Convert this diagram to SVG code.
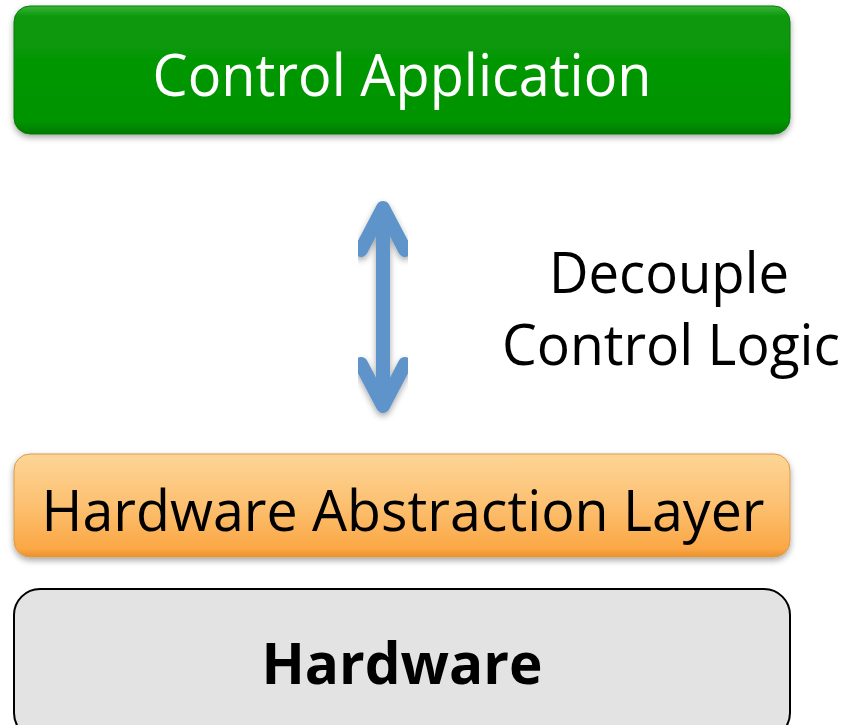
<svg xmlns="http://www.w3.org/2000/svg" width="846" height="725" viewBox="0 0 846 725">
<defs>
<linearGradient id="gGreen" x1="0" y1="0" x2="0" y2="1">
<stop offset="0" stop-color="#3cb43c"/>
<stop offset="0.08" stop-color="#0a990a"/>
<stop offset="0.9" stop-color="#009400"/>
<stop offset="1" stop-color="#007a00"/>
</linearGradient>
<linearGradient id="gOrange" x1="0" y1="0" x2="0" y2="1">
<stop offset="0" stop-color="#fdd596"/>
<stop offset="0.5" stop-color="#fcc070"/>
<stop offset="0.92" stop-color="#fba745"/>
<stop offset="1" stop-color="#e8922e"/>
</linearGradient>
<filter id="shadow" x="-5%" y="-10%" width="110%" height="130%">
<feDropShadow dx="0" dy="3" stdDeviation="3" flood-color="#000" flood-opacity="0.35"/>
</filter>
<style>
.t{font-family:"Open Sans","Noto Sans",sans-serif;}
</style>
</defs>
<g id="control-application">
<rect x="14" y="6" width="776" height="128" rx="16" fill="url(#gGreen)" stroke="#0a7a0a" stroke-width="1" filter="url(#shadow)"/>
<text class="t" x="402" y="96" font-size="59" fill="#ffffff" text-anchor="middle" textLength="499" lengthAdjust="spacingAndGlyphs">Control Application</text>
</g>
<g id="hal">
<rect x="14" y="454" width="776" height="103" rx="16" fill="url(#gOrange)" stroke="#d99a4a" stroke-width="1" filter="url(#shadow)"/>
<text class="t" x="403" y="531" font-size="57" fill="#000000" text-anchor="middle" textLength="723" lengthAdjust="spacingAndGlyphs">Hardware Abstraction Layer</text>
</g>
<g id="hardware">
<rect x="14" y="589" width="776" height="150" rx="26" fill="#e3e3e3" stroke="#000000" stroke-width="2"/>
<text class="t" x="402" y="684" font-size="57" font-weight="bold" fill="#000000" text-anchor="middle" textLength="281" lengthAdjust="spacingAndGlyphs">Hardware</text>
</g>
<g id="label">
<text class="t" x="669" y="293" font-size="56" fill="#000000" text-anchor="middle" textLength="240" lengthAdjust="spacingAndGlyphs">Decouple</text>
<text class="t" x="671" y="365" font-size="56" fill="#000000" text-anchor="middle" textLength="338" lengthAdjust="spacingAndGlyphs">Control Logic</text>
</g>
<g id="connectors" filter="url(#shadow)" fill="none" stroke="#5f94ca" stroke-width="14" stroke-linecap="round" stroke-linejoin="round">
<line x1="383" y1="212" x2="383" y2="402"/>
<polyline points="361,250 383,208 405,250"/>
<polyline points="361,364 383,406 405,364"/>
</g>
</svg>
